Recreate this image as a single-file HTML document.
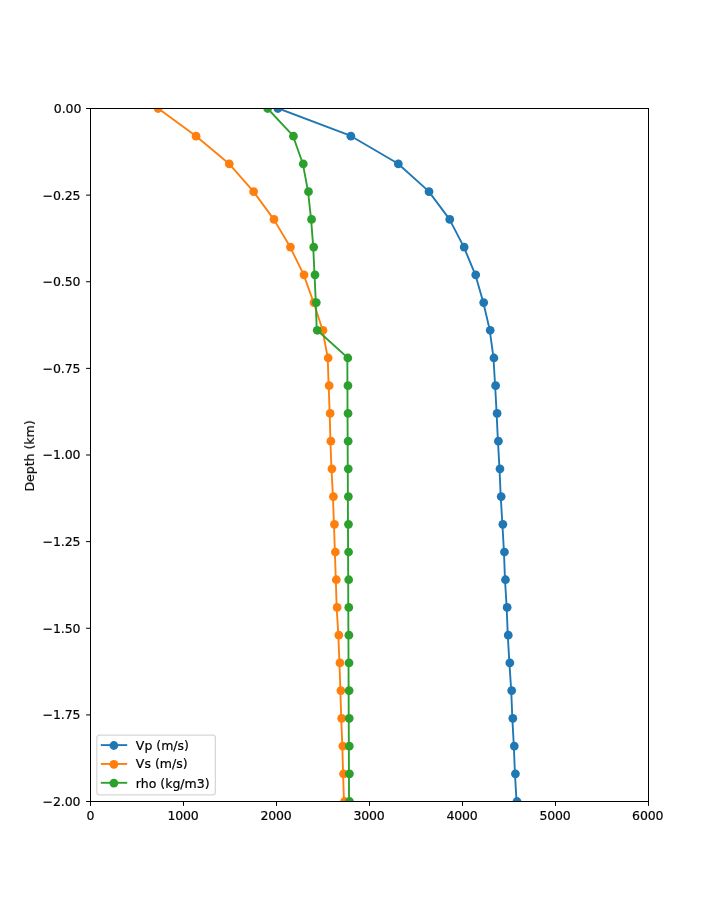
<!DOCTYPE html>
<html lang="en"><head><meta charset="utf-8"><title>Velocity and density profile</title>
<style>html,body{margin:0;padding:0;background:#fff}body{width:720px;height:900px;overflow:hidden}svg{display:block}text{font-family:"DejaVu Sans","Liberation Sans",sans-serif;font-size:12.5px;fill:#000;stroke:#000;stroke-width:0.2px}.tk{stroke:#000;stroke-width:1;fill:none}.ln{fill:none;stroke-width:1.875;stroke-linejoin:round;stroke-linecap:butt}.xt{letter-spacing:-0.15px}.yt{letter-spacing:-0.1px}</style></head><body>
<svg width="720" height="900" viewBox="0 0 720 900">
<rect x="0" y="0" width="720" height="900" fill="#fff"/>
<defs><clipPath id="ax"><rect x="90" y="108" width="558" height="693"/></clipPath></defs>
<g class="tk">
<line x1="90.5" y1="801.5" x2="90.5" y2="805.88"/>
<line x1="183.5" y1="801.5" x2="183.5" y2="805.88"/>
<line x1="276.5" y1="801.5" x2="276.5" y2="805.88"/>
<line x1="369.5" y1="801.5" x2="369.5" y2="805.88"/>
<line x1="462.5" y1="801.5" x2="462.5" y2="805.88"/>
<line x1="555.5" y1="801.5" x2="555.5" y2="805.88"/>
<line x1="648.5" y1="801.5" x2="648.5" y2="805.88"/>
<line x1="90.5" y1="801.5" x2="86.12" y2="801.5"/>
<line x1="90.5" y1="714.88" x2="86.12" y2="714.88"/>
<line x1="90.5" y1="628.25" x2="86.12" y2="628.25"/>
<line x1="90.5" y1="541.62" x2="86.12" y2="541.62"/>
<line x1="90.5" y1="455" x2="86.12" y2="455"/>
<line x1="90.5" y1="368.38" x2="86.12" y2="368.38"/>
<line x1="90.5" y1="281.75" x2="86.12" y2="281.75"/>
<line x1="90.5" y1="195.12" x2="86.12" y2="195.12"/>
<line x1="90.5" y1="108.5" x2="86.12" y2="108.5"/>
</g>
<g opacity="0.999">
<g class="xt" text-anchor="middle">
<text x="90.3" y="820.2">0</text>
<text x="183" y="820.2">1000</text>
<text x="276" y="820.2">2000</text>
<text x="369" y="820.2">3000</text>
<text x="462" y="820.2">4000</text>
<text x="555" y="820.2">5000</text>
<text x="647.7" y="820.2">6000</text>
</g>
<g class="yt" text-anchor="end">
<text x="80.38" y="805.75">−2.00</text>
<text x="80.38" y="719.12">−1.75</text>
<text x="80.38" y="632.5">−1.50</text>
<text x="80.38" y="545.87">−1.25</text>
<text x="80.38" y="459.25">−1.00</text>
<text x="80.38" y="372.62">−0.75</text>
<text x="80.38" y="286">−0.50</text>
<text x="80.38" y="200.07">−0.25</text>
<text x="81.28" y="112.75">0.00</text>
</g>
<text text-anchor="middle" transform="translate(34.02 455.9) rotate(-90)">Depth (km)</text>
</g>
<g clip-path="url(#ax)">
<polyline class="ln" stroke="#1f77b4" points="277.39,108 350.4,135.72 397.83,163.44 428.52,191.16 449.26,218.88 463.67,246.6 475.21,274.32 483.2,302.04 489.71,329.76 493.43,357.48 495.11,385.2 496.6,412.92 497.9,440.64 499.48,468.36 500.69,496.08 502.36,523.8 503.94,551.52 504.97,579.24 506.64,606.96 507.76,634.68 509.34,662.4 511.2,690.12 512.31,717.84 513.8,745.56 514.92,773.28 516.5,801"/>
<g fill="#1f77b4">
<circle cx="277.89" cy="108.5" r="4.38"/>
<circle cx="350.9" cy="136.22" r="4.38"/>
<circle cx="398.33" cy="163.94" r="4.38"/>
<circle cx="429.02" cy="191.66" r="4.38"/>
<circle cx="449.76" cy="219.38" r="4.38"/>
<circle cx="464.17" cy="247.1" r="4.38"/>
<circle cx="475.71" cy="274.82" r="4.38"/>
<circle cx="483.7" cy="302.54" r="4.38"/>
<circle cx="490.21" cy="330.26" r="4.38"/>
<circle cx="493.93" cy="357.98" r="4.38"/>
<circle cx="495.61" cy="385.7" r="4.38"/>
<circle cx="497.1" cy="413.42" r="4.38"/>
<circle cx="498.4" cy="441.14" r="4.38"/>
<circle cx="499.98" cy="468.86" r="4.38"/>
<circle cx="501.19" cy="496.58" r="4.38"/>
<circle cx="502.86" cy="524.3" r="4.38"/>
<circle cx="504.44" cy="552.02" r="4.38"/>
<circle cx="505.47" cy="579.74" r="4.38"/>
<circle cx="507.14" cy="607.46" r="4.38"/>
<circle cx="508.26" cy="635.18" r="4.38"/>
<circle cx="509.84" cy="662.9" r="4.38"/>
<circle cx="511.7" cy="690.62" r="4.38"/>
<circle cx="512.81" cy="718.34" r="4.38"/>
<circle cx="514.3" cy="746.06" r="4.38"/>
<circle cx="515.42" cy="773.78" r="4.38"/>
<circle cx="517" cy="801.5" r="4.38"/>
</g>
<polyline class="ln" stroke="#ff7f0e" points="157.61,108 195.56,135.72 228.76,163.44 253.12,191.16 273.49,218.88 289.95,246.6 303.53,274.32 313.48,302.04 322.5,329.76 327.71,357.48 328.64,385.2 329.66,412.92 330.4,440.64 331.43,468.36 332.92,496.08 333.94,523.8 334.87,551.52 335.8,579.24 336.64,606.96 338.31,634.68 339.43,662.4 340.36,690.12 341.19,717.84 342.31,745.56 343.05,773.28 343.98,801"/>
<g fill="#ff7f0e">
<circle cx="158.11" cy="108.5" r="4.38"/>
<circle cx="196.06" cy="136.22" r="4.38"/>
<circle cx="229.26" cy="163.94" r="4.38"/>
<circle cx="253.62" cy="191.66" r="4.38"/>
<circle cx="273.99" cy="219.38" r="4.38"/>
<circle cx="290.45" cy="247.1" r="4.38"/>
<circle cx="304.03" cy="274.82" r="4.38"/>
<circle cx="313.98" cy="302.54" r="4.38"/>
<circle cx="323" cy="330.26" r="4.38"/>
<circle cx="328.21" cy="357.98" r="4.38"/>
<circle cx="329.14" cy="385.7" r="4.38"/>
<circle cx="330.16" cy="413.42" r="4.38"/>
<circle cx="330.9" cy="441.14" r="4.38"/>
<circle cx="331.93" cy="468.86" r="4.38"/>
<circle cx="333.42" cy="496.58" r="4.38"/>
<circle cx="334.44" cy="524.3" r="4.38"/>
<circle cx="335.37" cy="552.02" r="4.38"/>
<circle cx="336.3" cy="579.74" r="4.38"/>
<circle cx="337.14" cy="607.46" r="4.38"/>
<circle cx="338.81" cy="635.18" r="4.38"/>
<circle cx="339.93" cy="662.9" r="4.38"/>
<circle cx="340.86" cy="690.62" r="4.38"/>
<circle cx="341.69" cy="718.34" r="4.38"/>
<circle cx="342.81" cy="746.06" r="4.38"/>
<circle cx="343.55" cy="773.78" r="4.38"/>
<circle cx="344.48" cy="801.5" r="4.38"/>
</g>
<polyline class="ln" stroke="#2ca02c" points="267.16,108 292.93,135.72 302.78,163.44 307.99,191.16 311.06,218.88 313.2,246.6 314.5,274.32 315.8,302.04 316.73,329.76 347.33,357.48 347.44,385.2 347.54,412.92 347.65,440.64 347.76,468.36 347.87,496.08 347.97,523.8 348.08,551.52 348.19,579.24 348.29,606.96 348.4,634.68 348.51,662.4 348.61,690.12 348.72,717.84 348.83,745.56 348.93,773.28 349.04,801"/>
<g fill="#2ca02c">
<circle cx="267.66" cy="108.5" r="4.38"/>
<circle cx="293.43" cy="136.22" r="4.38"/>
<circle cx="303.28" cy="163.94" r="4.38"/>
<circle cx="308.49" cy="191.66" r="4.38"/>
<circle cx="311.56" cy="219.38" r="4.38"/>
<circle cx="313.7" cy="247.1" r="4.38"/>
<circle cx="315" cy="274.82" r="4.38"/>
<circle cx="316.3" cy="302.54" r="4.38"/>
<circle cx="317.23" cy="330.26" r="4.38"/>
<circle cx="347.83" cy="357.98" r="4.38"/>
<circle cx="347.94" cy="385.7" r="4.38"/>
<circle cx="348.04" cy="413.42" r="4.38"/>
<circle cx="348.15" cy="441.14" r="4.38"/>
<circle cx="348.26" cy="468.86" r="4.38"/>
<circle cx="348.37" cy="496.58" r="4.38"/>
<circle cx="348.47" cy="524.3" r="4.38"/>
<circle cx="348.58" cy="552.02" r="4.38"/>
<circle cx="348.69" cy="579.74" r="4.38"/>
<circle cx="348.79" cy="607.46" r="4.38"/>
<circle cx="348.9" cy="635.18" r="4.38"/>
<circle cx="349.01" cy="662.9" r="4.38"/>
<circle cx="349.11" cy="690.62" r="4.38"/>
<circle cx="349.22" cy="718.34" r="4.38"/>
<circle cx="349.33" cy="746.06" r="4.38"/>
<circle cx="349.43" cy="773.78" r="4.38"/>
<circle cx="349.54" cy="801.5" r="4.38"/>
</g>
</g>
<rect x="90.5" y="108.5" width="558" height="693" fill="none" stroke="#000" stroke-width="1" stroke-linejoin="miter"/>
<rect x="96.8" y="735" width="118.6" height="59.95" rx="2.9" ry="2.9" fill="#fff" fill-opacity="0.8" stroke="#ccc" stroke-opacity="0.8" stroke-width="1.25"/>
<g opacity="0.999">
<line x1="100.8" y1="745.1" x2="127.2" y2="745.1" stroke="#1f77b4" stroke-width="1.875"/>
<circle cx="113.9" cy="745.5" r="4.38" fill="#1f77b4"/>
<text x="135.85" y="750.15">Vp (m/s)</text>
<line x1="100.8" y1="763.95" x2="127.2" y2="763.95" stroke="#ff7f0e" stroke-width="1.875"/>
<circle cx="113.9" cy="764.35" r="4.38" fill="#ff7f0e"/>
<text x="135.85" y="768.2">Vs (m/s)</text>
<line x1="100.8" y1="782.8" x2="127.2" y2="782.8" stroke="#2ca02c" stroke-width="1.875"/>
<circle cx="113.9" cy="783.2" r="4.38" fill="#2ca02c"/>
<text x="135.85" y="787.5">rho (kg/m3)</text>
</g>
</svg></body></html>
